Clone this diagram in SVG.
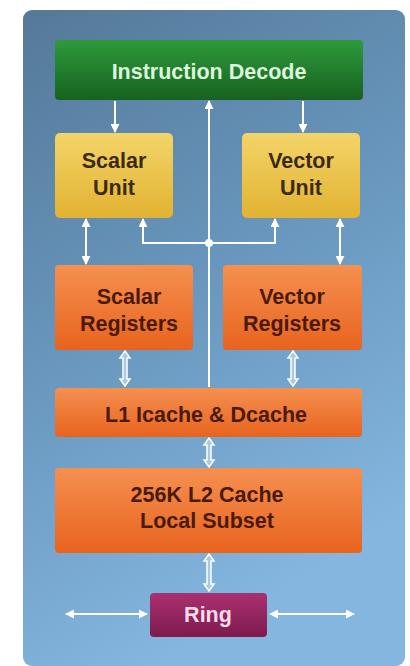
<svg xmlns="http://www.w3.org/2000/svg" width="410" height="666" viewBox="0 0 410 666">
<defs>
<linearGradient id="bg" x1="0" y1="0" x2="0.35" y2="1">
<stop offset="0" stop-color="#557998"/>
<stop offset="0.5" stop-color="#6896bd"/>
<stop offset="1" stop-color="#84b6df"/>
</linearGradient>
<linearGradient id="green" x1="0" y1="0" x2="0" y2="1">
<stop offset="0" stop-color="#2f9a3c"/>
<stop offset="1" stop-color="#16621f"/>
</linearGradient>
<linearGradient id="yellow" x1="0" y1="0" x2="0" y2="1">
<stop offset="0" stop-color="#f3d468"/>
<stop offset="1" stop-color="#e2b232"/>
</linearGradient>
<linearGradient id="orange" x1="0" y1="0" x2="0" y2="1">
<stop offset="0" stop-color="#f59050"/>
<stop offset="1" stop-color="#e8631e"/>
</linearGradient>
<linearGradient id="purple" x1="0" y1="0" x2="0" y2="1">
<stop offset="0" stop-color="#a9306f"/>
<stop offset="1" stop-color="#7e1a4e"/>
</linearGradient>
<marker id="ah" viewBox="0 0 10 10" refX="9" refY="5" markerWidth="9" markerHeight="9" markerUnits="userSpaceOnUse" orient="auto-start-reverse">
<path d="M0,0 L10,5 L0,10 Z" fill="#ffffff"/>
</marker>
<style>
.t{font-family:"Liberation Sans",Arial,sans-serif;font-weight:bold;font-size:21.5px;text-anchor:middle}
.ln{stroke:#ffffff;stroke-width:2;fill:none}
.hol{fill:#a8c8e4;stroke:#ffffff;stroke-width:1.5}
</style>
</defs>
<rect x="0" y="0" width="410" height="666" fill="#ffffff"/>
<rect id="panel" x="23" y="10" width="382" height="656" rx="9" fill="url(#bg)"/>

<g id="connectors">
<line class="ln" x1="115" y1="101" x2="115" y2="132" marker-end="url(#ah)"/>
<line class="ln" x1="303" y1="101" x2="303" y2="132" marker-end="url(#ah)"/>
<line class="ln" x1="209" y1="387" x2="209" y2="101" marker-end="url(#ah)"/>
<polyline class="ln" points="143,219 143,243 275,243 275,219" marker-start="url(#ah)" marker-end="url(#ah)"/>
<circle cx="209" cy="243" r="4" fill="#ffffff"/>
<line class="ln" x1="86" y1="219" x2="86" y2="264" marker-start="url(#ah)" marker-end="url(#ah)"/>
<line class="ln" x1="340" y1="219" x2="340" y2="264" marker-start="url(#ah)" marker-end="url(#ah)"/>
<path class="hol" d="M125,351 L130,358 L127,358 L127,379 L130,379 L125,386 L120,379 L123,379 L123,358 L120,358 Z"/>
<path class="hol" d="M293,351 L298,358 L295,358 L295,379 L298,379 L293,386 L288,379 L291,379 L291,358 L288,358 Z"/>
<path class="hol" d="M209,438 L214,445 L211,445 L211,460 L214,460 L209,467 L204,460 L207,460 L207,445 L204,445 Z"/>
<path class="hol" d="M209,554 L214,561 L211,561 L211,584 L214,584 L209,591 L204,584 L207,584 L207,561 L204,561 Z"/>
<line class="ln" x1="66" y1="614" x2="147" y2="614" marker-start="url(#ah)" marker-end="url(#ah)"/>
<line class="ln" x1="270" y1="614" x2="354" y2="614" marker-start="url(#ah)" marker-end="url(#ah)"/>
</g>

<g id="instruction-decode">
<rect x="55" y="40" width="308" height="60" rx="4" fill="url(#green)"/>
<text class="t" x="209" y="79" fill="#dcf7dc">Instruction Decode</text>
</g>
<g id="scalar-unit">
<rect x="55" y="133" width="118" height="85" rx="5" fill="url(#yellow)"/>
<text class="t" x="114" y="168" fill="#3a2a10">Scalar</text>
<text class="t" x="114" y="195" fill="#3a2a10">Unit</text>
</g>
<g id="vector-unit">
<rect x="242" y="133" width="118" height="85" rx="5" fill="url(#yellow)"/>
<text class="t" x="301" y="168" fill="#3a2a10">Vector</text>
<text class="t" x="301" y="195" fill="#3a2a10">Unit</text>
</g>
<g id="scalar-registers">
<rect x="55" y="265" width="138" height="85" rx="4" fill="url(#orange)"/>
<text class="t" x="129" y="304" fill="#4a1a08">Scalar</text>
<text class="t" x="129" y="331" fill="#4a1a08">Registers</text>
</g>
<g id="vector-registers">
<rect x="223" y="265" width="139" height="85" rx="4" fill="url(#orange)"/>
<text class="t" x="292" y="304" fill="#4a1a08">Vector</text>
<text class="t" x="292" y="331" fill="#4a1a08">Registers</text>
</g>
<g id="l1-cache">
<rect x="55" y="388" width="307" height="49" rx="4" fill="url(#orange)"/>
<text class="t" x="206" y="422" fill="#4a1a08">L1 Icache &amp; Dcache</text>
</g>
<g id="l2-cache">
<rect x="55" y="468" width="307" height="85" rx="4" fill="url(#orange)"/>
<text class="t" x="207" y="502" fill="#4a1a08">256K L2 Cache</text>
<text class="t" x="207" y="528" fill="#4a1a08">Local Subset</text>
</g>
<g id="ring">
<rect x="150" y="593" width="117" height="44" rx="4" fill="url(#purple)"/>
<text class="t" x="208" y="622" fill="#f8dcea">Ring</text>
</g>
</svg>
